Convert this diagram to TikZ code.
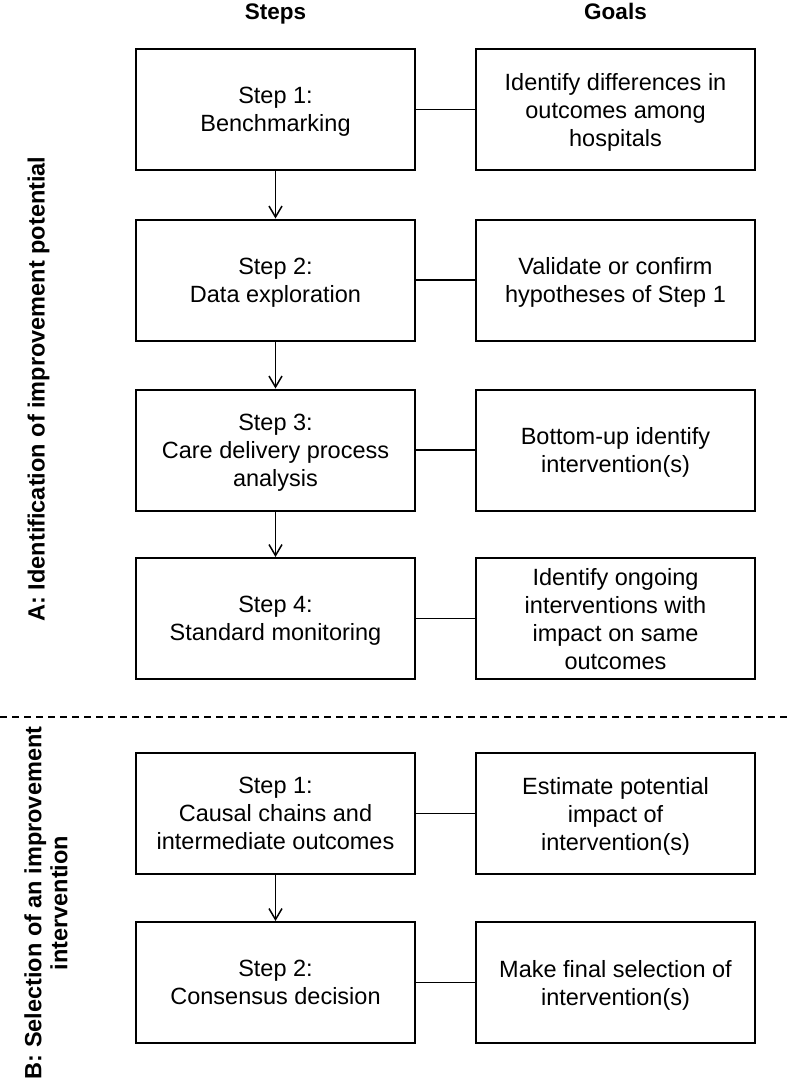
\documentclass[tikz,border=0pt]{standalone}
\usepackage{fontspec}
\setmainfont{Liberation Sans}
\usetikzlibrary{arrows.meta}
\begin{document}
\begin{tikzpicture}[x=1pt,y=-1pt,
  box/.style={draw, line width=2pt, minimum width=279pt, minimum height=121pt,
    align=center, inner sep=0pt, text depth=0pt, font=\fontsize{23.5}{28}\selectfont},
  link/.style={line width=1.8pt},
  flow/.style={line width=1.5pt, -{Straight Barb[length=11pt,width=13pt,line width=1.5pt]}},
  head/.style={font=\fontsize{22.5}{26}\selectfont\bfseries, anchor=base},
  side/.style={font=\fontsize{23.5}{26}\selectfont\bfseries, rotate=90, align=center},
  sep/.style={line width=2pt, dash pattern=on 7pt off 5pt}
]
\useasboundingbox (0,0) rectangle (787,1080);

\node[head] (hs) at (275.5,19) {Steps};
\node[head] (hg) at (615.5,19) {Goals};

\node[box] (s1) at (275.5,109.5) {Step 1:\\Benchmarking};
\node[box] (g1) at (615.5,109.5) {Identify differences in\\outcomes among\\hospitals};
\node[box] (s2) at (275.5,280) {Step 2:\\Data exploration};
\node[box] (g2) at (615.5,280) {Validate or confirm\\hypotheses of Step 1};
\node[box] (s3) at (275.5,450) {Step 3:\\Care delivery process\\analysis};
\node[box] (g3) at (615.5,450) {Bottom-up identify\\intervention(s)};
\node[box] (s4) at (275.5,618.5) {Step 4:\\Standard monitoring};
\node[box] (g4) at (615.5,618.5) {Identify ongoing\\interventions with\\impact on same\\outcomes};

\node[box] (b1) at (275.5,813.5) {Step 1:\\Causal chains and\\intermediate outcomes};
\node[box] (c1) at (615.5,813.5) {Estimate potential\\impact of\\intervention(s)};
\node[box] (b2) at (275.5,982.5) {Step 2:\\Consensus decision};
\node[box] (c2) at (615.5,982.5) {Make final selection of\\intervention(s)};

\foreach \a/\b in {s1/g1,s2/g2,s3/g3,s4/g4,b1/c1,b2/c2}
  \draw[link] (\a.east) -- (\b.west);
\foreach \a/\b in {s1/s2,s2/s3,s3/s4,b1/b2}
  \draw[flow] (\a.south) -- (\b.north);

\coordinate (dl) at (0,717);
\coordinate (dr) at (787,717);
\draw[sep] (dl) -- (dr);

\node[side] (la) at (38.5,389) {A: Identification of improvement potential};
\node[side] (lb) at (46,903) {B: Selection of an improvement\\intervention};
\end{tikzpicture}
\end{document}
